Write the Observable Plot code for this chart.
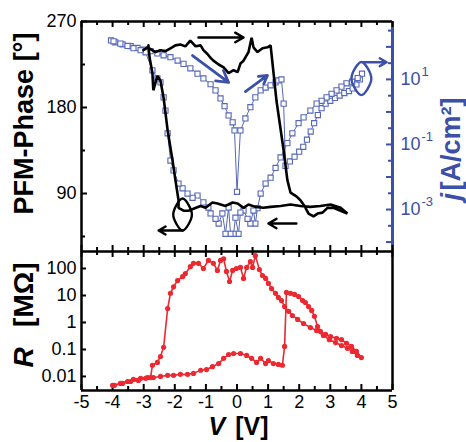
<!DOCTYPE html>
<html><head><meta charset="utf-8">
<script src="https://cdn.jsdelivr.net/npm/d3@7"></script>
<script src="https://cdn.jsdelivr.net/npm/@observablehq/plot@0.6"></script>
<style>
body{margin:0;background:#fff;}
#chart{position:relative;width:466px;height:442px;}
#chart svg{position:absolute;left:0;top:0;}
</style></head><body><div id="chart"></div>
<script>
// ---------- data ----------
const xTicks = [-5,-4,-3,-2,-1,0,1,2,3,4,5];
const xMinor = [-4.5,-3.5,-2.5,-1.5,-0.5,0.5,1.5,2.5,3.5,4.5];
const phaseTicks = [90,180,270];
const phaseMinor = [45,135,225];
const jMajor = [1e-4,1e-3,1e-2,1e-1,1,10,100];
const jMinor = [3.16e-4,3.16e-3,3.16e-2,0.316,3.16,31.6,316];
const jLabelTicks = [1e-3,1e-1,10];
const jLabelExp = ["-3","-1","1"];
const rTicks = [0.01,0.1,1,10,100];

// PFM phase loop (V, degrees)
const phaseV = [-3.01,-2.88,-2.78,-2.62,-2.46,-2.30,-2.14,-1.98,-1.82,-1.66,-1.50,-1.33,-1.17,-1.08,-0.95,-0.85,-0.76,-0.59,-0.43,-0.27,-0.11,0.02,0.11,0.21,0.37,0.47,0.53,0.66,0.82,0.98,1.08,1.27,1.50,1.62,1.72,1.91,2.04,2.17,2.30,2.46,2.59,2.75,2.91,3.10,3.33,3.55,3.33,3.01,2.68,2.36,2.04,1.72,1.40,1.08,0.85,0.59,0.37,0.21,0.02,-0.14,-0.37,-0.63,-0.79,-1.01,-1.17,-1.40,-1.56,-1.72,-1.88,-1.88,-1.98,-2.07,-2.23,-2.36,-2.46,-2.56,-2.69,-2.72,-2.81,-2.85];
const phaseDeg = [240,243,241,238,240,239,242,245,246,244,250,244,245,240,236,232,229,225,222,216,219,217,226,229,238,253,243,238,242,243,245,187,135,104,91,87,83,77,69,66,69,70,75,75,72,69,75,78.5,77,76,77,78.5,77,76,75,76,78.5,75,79.5,80.6,77,79.5,80.6,75,77,74,72,72,75,83,104,124,156,190,208,213,198,216,232,245];

// current density j (V, A/cm^2)
const jV = [-4.05,-3.91,-3.68,-3.42,-3.20,-3.01,-2.78,-2.56,-2.36,-2.14,-1.91,-1.72,-1.50,-1.27,-1.08,-0.85,-0.69,-0.53,-0.40,-0.27,-0.14,-0.08,0.00,0.11,0.27,0.43,0.59,0.76,0.92,1.08,1.24,1.33,1.43,1.50,
 1.56,1.70,1.85,2.00,2.13,2.25,2.37,2.48,2.60,2.72,2.85,3.00,3.15,3.30,3.45,3.60,3.72,3.84,3.95,4.02,
 3.88,3.70,3.52,3.36,3.20,3.04,2.88,2.72,2.56,2.36,2.14,1.98,1.78,1.62,1.40,1.24,1.08,0.92,0.76,0.66,0.59,0.53,0.43,0.34,0.21,0.11,0.05,-0.05,-0.11,-0.21,-0.27,-0.37,-0.47,-0.59,-0.69,-0.85,-0.92,-1.08,-1.27,-1.43,-1.59,-1.75,-1.88,-2.04,-2.14,-2.23,-2.30,-2.36,-2.46,-2.56,-2.72,-2.94,-3.10,-3.33,-3.52,-3.75,-3.97];
const jVal = [158,138,120,105,93,83,74,63,55,48,38,30,22,15,10.7,7.1,4.6,2.6,1.5,0.78,0.48,0.27,0.0035,0.27,0.63,1.4,2.8,4.6,5.6,6.6,8.1,9.3,10,1.8,
 0.022,0.030,0.042,0.060,0.085,0.14,0.25,0.45,0.8,1.3,1.8,2.2,2.7,3.2,3.8,4.4,5.3,7.0,10,15,
 11,8.5,7.6,6.0,4.6,3.6,2.8,2.2,1.8,1.1,0.68,0.45,0.22,0.11,0.040,0.019,0.0095,0.0063,0.0031,0.0011,0.00037,0.00093,0.00037,0.00052,0.00093,0.00081,0.00018,0.00056,0.00018,0.00018,0.00115,0.00018,0.00076,0.00037,0.00052,0.00076,0.00115,0.00166,0.0027,0.0023,0.0031,0.0045,0.0063,0.016,0.032,0.22,1.1,2.8,8.1,10.7,19,68,79,91,107,126,148];

// resistance R (V, MOhm)
const rV = [-4.00,-3.75,-3.52,-3.33,-3.10,-2.88,-2.69,-2.46,-2.23,-2.04,-1.82,-1.59,-1.40,-1.17,-0.98,-0.79,-0.59,-0.43,-0.27,-0.11,0.11,0.31,0.47,0.63,0.76,0.92,1.01,1.17,1.33,1.46,1.53,1.59,
 1.72,1.85,1.98,2.11,2.20,2.30,2.40,2.49,2.59,2.68,2.85,3.01,3.20,3.36,3.52,3.68,3.84,4.00,
 3.87,3.71,3.55,3.36,3.17,2.97,2.78,2.56,2.36,2.14,1.95,1.78,1.66,1.53,1.43,1.33,1.24,1.11,1.01,0.92,0.82,0.72,0.59,0.50,0.43,0.31,0.21,0.11,-0.02,-0.14,-0.24,-0.34,-0.43,-0.53,-0.63,-0.76,-0.92,-1.08,-1.24,-1.40,-1.50,-1.66,-1.75,-1.91,-2.04,-2.14,-2.23,-2.36,-2.46,-2.56,-2.72,-2.78,-2.94,-3.17,-3.42,-3.68,-3.94];
const rVal = [0.0047,0.0055,0.0065,0.0078,0.0085,0.0091,0.0091,0.010,0.011,0.011,0.012,0.012,0.013,0.017,0.018,0.023,0.030,0.047,0.065,0.071,0.071,0.060,0.047,0.033,0.047,0.030,0.039,0.030,0.028,0.026,0.13,13,
 12,11,9.1,6.5,5.5,3.9,2.8,1.7,0.71,0.47,0.36,0.30,0.26,0.23,0.17,0.13,0.085,0.050,
 0.060,0.085,0.11,0.14,0.18,0.23,0.33,0.50,0.65,0.91,1.3,1.8,2.6,3.9,6.5,8.5,12,18,28,43,55,91,300,110,180,110,43,110,100,85,33,78,230,200,85,155,200,100,155,155,117,65,50,36,21,12,3.3,0.12,0.055,0.033,0.026,0.0091,0.0085,0.0071,0.0065,0.0055,0.0047];

// annotations (in V / phase-degree units)
const blackArrows = [
  {x1:-1.24, y1:253.3, x2:0.21, y2:253.3},
  {x1:1.91, y1:58.6, x2:1.01, y2:58.6},
  {x1:-1.75, y1:51.3, x2:-2.52, y2:51.3}
];
const blueArrows = [
  {x1:-1.43, y1:234.4, x2:-0.27, y2:206.2},
  {x1:0.27, y1:196.7, x2:0.98, y2:213.5}
];
const blueHook = [{x1:4.05, y1:227.4, x2:4.81, y2:227.4}];
const blackEllipse = {cx:-1.75, cy:68, rx:0.30, ry:16.7};
const blueEllipse = {cx:4.0, cy:210.3, rx:0.32, ry:17.3};

// ---------- build ----------
const FONT = '"Liberation Sans", Arial, Helvetica, sans-serif';
const BLUE = "#3b50a6";
const SQ = "#5567b9";
const RED = "#ec2830";
const W = 466, H = 442;
const PH_DOMAIN = [29.3, 270];
const J_DOMAIN = [Math.pow(10,-4.29), Math.pow(10,2.78)];
const R_DOMAIN = [Math.pow(10,-2.52), Math.pow(10,2.63)];
const topM = {marginLeft:81, marginRight:74, marginTop:21, marginBottom:191};
const botM = {marginLeft:81, marginRight:74, marginTop:251, marginBottom:52};
const TOPH = H - topM.marginTop - topM.marginBottom;   // frame height
const BOTH = H - botM.marginTop - botM.marginBottom;
const FW = W - topM.marginLeft - topM.marginRight;
const baseStyle = {background:"none", fontFamily:FONT, fontSize:"18px", color:"black", overflow:"visible"};

const phaseData = phaseV.map((v,i)=>({v, p:phaseDeg[i]}));
const jData = jV.map((v,i)=>({v, j:jVal[i]}));
const rData = rV.map((v,i)=>({v, r:rVal[i]}));
const ellipsePts = e => [
  {x:e.cx, y:e.cy+e.ry},{x:e.cx+e.rx, y:e.cy},{x:e.cx, y:e.cy-e.ry},{x:e.cx-e.rx, y:e.cy}
];

const jPlot = Plot.plot({
  width:W, height:H, ...topM, style:baseStyle,
  x:{domain:[-5,5], axis:null},
  y:{type:"log", domain:J_DOMAIN, axis:null},
  marks:[
    Plot.line(jData, {x:"v", y:"j", stroke:SQ, strokeWidth:1}),
    Plot.dot(jData, {x:"v", y:"j", symbol:"square", r:2.9, stroke:SQ, strokeWidth:1.1, fill:"white"}),
    Plot.tickY(jMajor, {y:d=>d, stroke:BLUE, strokeWidth:2, insetLeft:FW-6}),
    Plot.tickY(jMinor, {y:d=>d, stroke:BLUE, strokeWidth:2, insetLeft:FW-4}),
    Plot.ruleX([5], {stroke:BLUE, strokeWidth:3}),
    Plot.text(jLabelTicks, {y:d=>d, frameAnchor:"right", dx:8, textAnchor:"start", lineAnchor:"middle", text:()=>"10", fill:BLUE, fontSize:18}),
    Plot.text(jLabelTicks, {y:d=>d, frameAnchor:"right", dx:29, dy:-8, textAnchor:"start", lineAnchor:"middle", text:(d,i)=>jLabelExp[i], fill:BLUE, fontSize:13}),
    Plot.text(["j"], {frameAnchor:"right", dx:59, dy:64, rotate:-90, textAnchor:"start", lineAnchor:"middle", fill:BLUE, fontSize:27, fontWeight:"bold", fontStyle:"italic"}),
    Plot.text(["[A/cm²]"], {frameAnchor:"right", dx:59, dy:-39, rotate:-90, textAnchor:"end", lineAnchor:"middle", fill:BLUE, fontSize:27, fontWeight:"bold"})
  ]
});

const phasePlot = Plot.plot({
  width:W, height:H, ...topM, style:baseStyle,
  x:{domain:[-5,5], axis:null},
  y:{domain:PH_DOMAIN, ticks:phaseTicks, tickSize:0, tickPadding:5, label:null},
  marks:[
    Plot.ruleX([-5], {stroke:"black", strokeWidth:2.5}),
    Plot.ruleY([PH_DOMAIN[1]], {stroke:"black", strokeWidth:2.5}),
    Plot.ruleY([PH_DOMAIN[0]], {stroke:"black", strokeWidth:2.5}),
    Plot.tickX(xTicks, {x:d=>d, strokeWidth:2, insetBottom:TOPH-6}),
    Plot.tickX(xMinor, {x:d=>d, strokeWidth:2, insetBottom:TOPH-4}),
    Plot.tickX(xTicks, {x:d=>d, strokeWidth:2, insetTop:TOPH-6}),
    Plot.tickX(xMinor, {x:d=>d, strokeWidth:2, insetTop:TOPH-4}),
    Plot.tickY(phaseTicks, {y:d=>d, strokeWidth:2, insetRight:FW-6}),
    Plot.tickY(phaseMinor, {y:d=>d, strokeWidth:2, insetRight:FW-4}),
    Plot.line(phaseData, {x:"v", y:"p", stroke:"black", strokeWidth:2.6, strokeLinejoin:"miter"}),
    Plot.arrow(blackArrows, {x1:"x1", y1:"y1", x2:"x2", y2:"y2", stroke:"black", strokeWidth:2.4, headLength:6}),
    Plot.arrow(blueArrows, {x1:"x1", y1:"y1", x2:"x2", y2:"y2", stroke:BLUE, strokeWidth:2.8, headLength:7}),
    Plot.arrow(blueHook, {x1:"x1", y1:"y1", x2:"x2", y2:"y2", stroke:BLUE, strokeWidth:2.4, headLength:6}),
    Plot.line(ellipsePts(blackEllipse), {x:"x", y:"y", curve:"catmull-rom-closed", stroke:"black", strokeWidth:2.4}),
    Plot.line(ellipsePts(blueEllipse), {x:"x", y:"y", curve:"catmull-rom-closed", stroke:BLUE, strokeWidth:2.4}),
    Plot.text(["PFM-Phase [°]"], {frameAnchor:"left", dx:-57, dy:-13, rotate:-90, textAnchor:"middle", lineAnchor:"middle", fontSize:27, fontWeight:"bold", fill:"black"})
  ]
});

const rPlot = Plot.plot({
  width:W, height:H, ...botM, style:baseStyle,
  x:{domain:[-5,5], ticks:xTicks, tickFormat:d=>String(d), tickSize:0, tickPadding:5, label:null},
  y:{type:"log", domain:R_DOMAIN, ticks:rTicks, tickFormat:d=>String(d), tickSize:0, tickPadding:5, label:null},
  marks:[
    Plot.ruleX([-5,5], {stroke:"black", strokeWidth:2.5}),
    Plot.ruleY([R_DOMAIN[0]], {stroke:"black", strokeWidth:2.5}),
    Plot.tickX(xTicks, {x:d=>d, strokeWidth:2, insetBottom:BOTH-6}),
    Plot.tickX(xMinor, {x:d=>d, strokeWidth:2, insetBottom:BOTH-4}),
    Plot.tickX(xTicks, {x:d=>d, strokeWidth:2, insetTop:BOTH-6}),
    Plot.tickX(xMinor, {x:d=>d, strokeWidth:2, insetTop:BOTH-4}),
    Plot.tickY(rTicks, {y:d=>d, strokeWidth:2, insetRight:FW-5}),
    Plot.line(rData, {x:"v", y:"r", stroke:RED, strokeWidth:1.6}),
    Plot.dot(rData, {x:"v", y:"r", r:2.6, fill:RED}),
    Plot.text(["R"], {frameAnchor:"left", dx:-57, dy:46.5, rotate:-90, textAnchor:"start", lineAnchor:"middle", fontSize:28, fontWeight:"bold", fontStyle:"italic", fill:"black"}),
    Plot.text(["[MΩ]"], {frameAnchor:"left", dx:-57, dy:-58.5, rotate:-90, textAnchor:"end", lineAnchor:"middle", fontSize:28, fontWeight:"bold", fill:"black"}),
    Plot.text(["V"], {frameAnchor:"bottom", dx:-28.5, dy:36, textAnchor:"start", lineAnchor:"middle", fontSize:25, fontWeight:"bold", fontStyle:"italic", fill:"black"}),
    Plot.text(["[V]"], {frameAnchor:"bottom", dx:31.5, dy:36, textAnchor:"end", lineAnchor:"middle", fontSize:25, fontWeight:"bold", fill:"black"})
  ]
});

const root = document.getElementById("chart");
root.appendChild(jPlot);
root.appendChild(phasePlot);
root.appendChild(rPlot);
</script></body></html>
